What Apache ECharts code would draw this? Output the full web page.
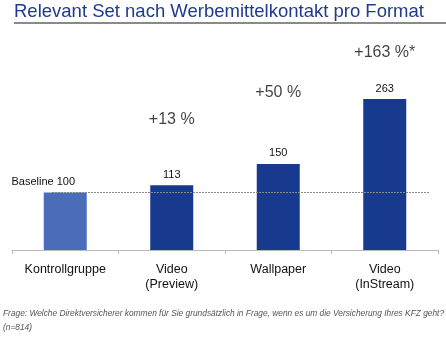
<!DOCTYPE html>
<html><head><meta charset="utf-8">
<script src="https://cdn.jsdelivr.net/npm/echarts@6/dist/echarts.min.js"></script>
<style>html,body{margin:0;padding:0;background:#fff}#c{width:446px;height:337px}</style>
</head><body><div id="c"></div>
<script>
const categories = ['Kontrollgruppe', 'Video\n(Preview)', 'Wallpaper', 'Video\n(InStream)'];
const values = [100, 113, 150, 263];
const baselineValue = 100;
const pctLabels = ['', '+13 %', '+50 %', '+163 %*'];
const titleText = 'Relevant Set nach Werbemittelkontakt pro Format';
const footText = 'Frage: Welche Direktversicherer kommen für Sie grundsätzlich in Frage, wenn es um die Versicherung Ihres KFZ geht?\n(n=814)';

// layout anchors (value-units) for the percentage annotations
const pctAnchor = [null, 227, 274, 344];

const chart = echarts.init(document.getElementById('c'), null, {renderer: 'canvas'});
const FONT = 'Liberation Sans, Arial, sans-serif';
chart.setOption({
  animation: false,
  title: [
    {text: titleText, left: 9, top: -3, textStyle: {fontFamily: FONT, fontSize: 18.5, fontWeight: 'normal', color: '#1f3a8f'}},
    {text: footText, left: -2, top: 302, textStyle: {fontFamily: FONT, fontSize: 8.35, fontStyle: 'italic', fontWeight: 'normal', color: '#555', lineHeight: 14}}
  ],
  graphic: [
    {type: 'line', shape: {x1: 14, y1: 23, x2: 446, y2: 23}, style: {stroke: '#8a8a8a', lineWidth: 2}}
  ],
  grid: {left: 12, right: 8, top: 40, bottom: 87},
  xAxis: {
    type: 'category', data: categories,
    axisLine: {lineStyle: {color: '#bbb', width: 1}},
    axisTick: {show: true, length: 4, lineStyle: {color: '#bbb'}},
    axisLabel: {fontFamily: FONT, fontSize: 12.5, color: '#111', margin: 12, lineHeight: 15}
  },
  yAxis: {type: 'value', min: 0, max: 366, show: false, splitLine: {show: false}},
  series: [
    {
      type: 'bar', barWidth: 43,
      data: values.map((v, i) => ({
        value: v,
        itemStyle: {color: i === 0 ? '#4a6cb9' : '#173a8e'},
        label: i === 0 ? {formatter: 'Baseline {c}', offset: [-22, 0]} : {}
      })),
      label: {show: true, position: 'top', distance: 5, fontFamily: FONT, fontSize: 11, color: '#111'},
      markLine: {
        silent: true, symbol: 'none', z: 5,
        lineStyle: {type: [2, 1], color: '#8a8a8a', width: 1},
        label: {show: false},
        data: [[{coord: [0, baselineValue], x: 52}, {coord: [3, baselineValue], x: 429}]]
      }
    },
    {
      type: 'scatter', symbolSize: 0, silent: true,
      data: pctAnchor.map((y, i) => y == null ? null : {value: [i, y], label: {formatter: pctLabels[i]}}).filter(d => d),
      label: {show: true, position: 'inside', fontFamily: FONT, fontSize: 16, color: '#111'}
    }
  ]
});
</script></body></html>
